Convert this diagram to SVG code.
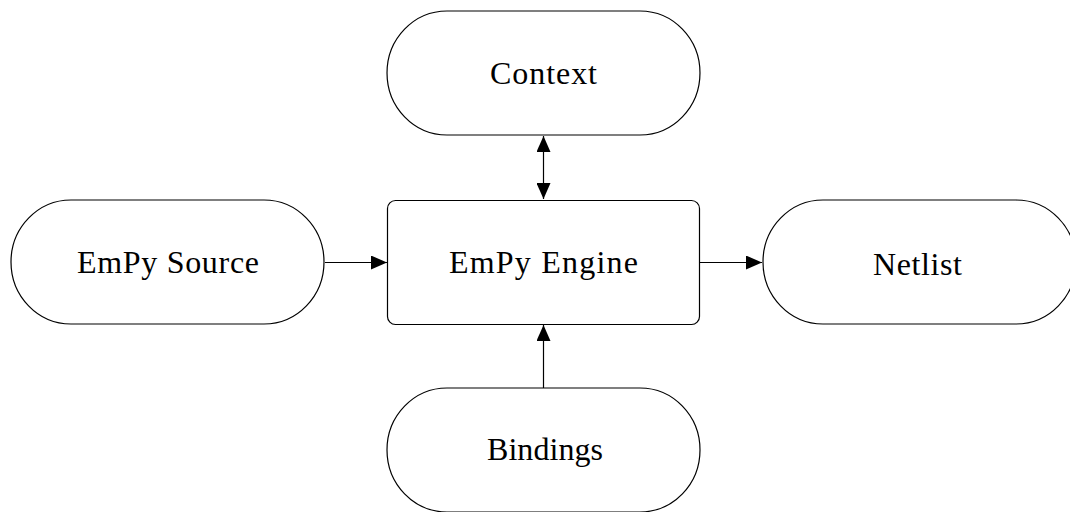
<svg xmlns="http://www.w3.org/2000/svg" width="1070" height="512" viewBox="0 0 1070 512">
<style>
.node{fill:#fff;stroke:#000;stroke-width:1.2}
.lbl{font-family:"Liberation Serif","Times New Roman",serif;font-size:32px;fill:#000;text-anchor:middle}
.edge{stroke:#000;stroke-width:1.2;fill:none}
</style>
<defs>
<marker id="ah" markerWidth="17" markerHeight="14" refX="16" refY="7" orient="auto-start-reverse" markerUnits="userSpaceOnUse">
<path d="M0,0 L16,7 L0,14 Z" fill="#000"/>
</marker>
</defs>
<rect width="1070" height="512" fill="#fff"/>
<g id="context">
<path class="node" d="M447,11 H640 A60,62 0 0 1 640,135 H447 A60,62 0 0 1 447,11 Z"/>
<text class="lbl" x="543.5" y="84" textLength="107">Context</text>
</g>
<g id="empy-source">
<path class="node" d="M71,200 H264 A60,62 0 0 1 264,324 H71 A60,62 0 0 1 71,200 Z"/>
<text class="lbl" x="168" y="273" textLength="182">EmPy Source</text>
</g>
<g id="empy-engine">
<rect class="node" x="387.5" y="200.5" width="312" height="124" rx="8" ry="8"/>
<text class="lbl" x="543.5" y="273" textLength="189">EmPy Engine</text>
</g>
<g id="netlist">
<path class="node" d="M823,200 H1016 A60,62 0 0 1 1016,324 H823 A60,62 0 0 1 823,200 Z"/>
<text class="lbl" x="917.5" y="275" textLength="89">Netlist</text>
</g>
<g id="bindings">
<path class="node" d="M447,388 H640 A60,62 0 0 1 640,512 H447 A60,62 0 0 1 447,388 Z"/>
<text class="lbl" x="545" y="460" textLength="116">Bindings</text>
</g>
<g id="connectors">
<line class="edge" x1="543.5" y1="136" x2="543.5" y2="199" marker-start="url(#ah)" marker-end="url(#ah)"/>
<line class="edge" x1="325" y1="262.5" x2="387" y2="262.5" marker-end="url(#ah)"/>
<line class="edge" x1="700" y1="262.5" x2="762" y2="262.5" marker-end="url(#ah)"/>
<line class="edge" x1="543.5" y1="388" x2="543.5" y2="325" marker-end="url(#ah)"/>
</g>
</svg>
